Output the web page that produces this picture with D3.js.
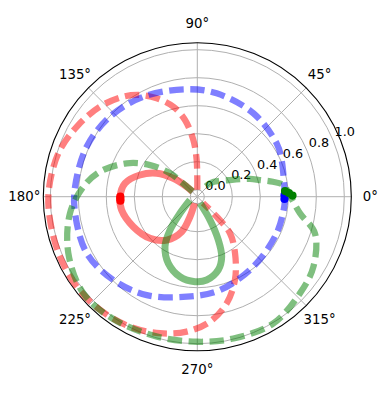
<!DOCTYPE html>
<html><head><meta charset="utf-8">
<script src="https://cdn.jsdelivr.net/npm/d3@7"></script>
<style>body{margin:0;background:#fff} svg{display:block}</style>
</head><body><svg id="c" width="387" height="393"></svg>
<script>
// ---- data (theta in degrees, counter-clockwise from east; r in data units) ----
const angleTicks = [0, 45, 90, 135, 180, 225, 270, 315];
const angleLabels = ["0°", "45°", "90°", "135°", "180°", "225°", "270°", "315°"];
const radialTicks = [0, 0.2, 0.4, 0.6, 0.8, 1.0];
const radialLabels = ["0.0", "0.2", "0.4", "0.6", "0.8", "1.0"];

const redSolidTheta = [133, 136.7, 142.5, 150, 159.3, 169.5, 180, 190, 205.1, 221.3, 234.8, 246, 250, 247];
const redSolidR     = [0.0, 0.054, 0.166, 0.285, 0.388, 0.475, 0.502, 0.499, 0.455, 0.40, 0.329, 0.224, 0.102, 0.0];

const redDashTheta = [90, 91, 94, 99.1, 104.9, 112.4, 119.4, 126.5, 137.2, 149.9, 161.2, 170.9, 180, 189, 202.2, 216.7, 229.3, 242.6, 254.7, 265.5, 275.8, 285.4, 294.3, 303.7, 311.8, 314.1, 312.3];
const redDashR     = [0.0, 0.212, 0.356, 0.505, 0.615, 0.71, 0.784, 0.839, 0.897, 0.946, 0.986, 1.003, 1.014, 1.015, 1.02, 1.025, 1.016, 0.996, 0.961, 0.917, 0.847, 0.74, 0.603, 0.436, 0.30, 0.149, 0.01];

const blueDashTheta = [0, 23.5, 33.9, 56.1, 79.4, 95.6, 118.4, 137.5, 155.7, 175.3, 187.7, 207.1, 224.8, 242.8, 264, 283.7, 308.7, 335.3, 353.4, 360];
const blueDashR     = [0.576, 0.607, 0.633, 0.668, 0.701, 0.721, 0.761, 0.796, 0.817, 0.826, 0.831, 0.837, 0.795, 0.74, 0.668, 0.636, 0.59, 0.574, 0.575, 0.576];

const greenSolidTheta = [204.3, 223.8, 230.7, 237.1, 246.5, 257.8, 268.5, 276.4, 286, 292.1, 295.9, 298.6, 292.2];
const greenSolidR     = [0.007, 0.121, 0.258, 0.375, 0.469, 0.535, 0.557, 0.549, 0.494, 0.413, 0.294, 0.14, 0.0];

const greenDashTheta = [132, 136, 139.4, 146.2, 154.7, 165.6, 175, 187.4, 203.7, 220.3, 235.7, 254, 270, 284.3, 301, 316.7, 329, 342.7, 350.8, 360, 367.7, 371.2, 375, 378.6, 386, 406.5, 411.5];
const greenDashR     = [0.0, 0.05, 0.207, 0.356, 0.508, 0.668, 0.767, 0.867, 0.956, 1.017, 1.01, 0.99, 0.986, 0.995, 1.005, 0.957, 0.918, 0.83, 0.693, 0.615, 0.57, 0.50, 0.41, 0.347, 0.225, 0.082, 0.0];

const redMarkTheta = [180, 181.5, 183];
const redMarkR     = [0.50, 0.50, 0.50];
const blueMarkTheta = [1, -1.5];
const blueMarkR     = [0.573, 0.573];
const greenMarkTheta = [3.7, 2.3, 0.7];
const greenMarkR     = [0.578, 0.605, 0.63];

// ---- layout ----
const cx = 197.3, cy = 196.7, R = 154;
const svg = d3.select("#c");
const r = d3.scaleLinear().domain([-0.05, 1.05]).range([0, R]);
const ang = d3.scaleLinear().domain([0, 360]).range([Math.PI / 2, Math.PI / 2 - 2 * Math.PI]);
const font = "DejaVu Sans, sans-serif";

const g = svg.append("g").attr("transform", `translate(${cx},${cy})`);
const px = (t, v) => r(v) * Math.sin(ang(t));
const py = (t, v) => -r(v) * Math.cos(ang(t));

// grid circles
g.selectAll("circle.grid").data(radialTicks).enter().append("circle")
  .attr("r", d => r(d)).attr("fill", "none").attr("stroke", "#b0b0b0").attr("stroke-width", 1);
// angular grid
g.selectAll("line.grid").data(angleTicks).enter().append("line")
  .attr("x1", 0).attr("y1", 0)
  .attr("x2", d => px(d, 1.05)).attr("y2", d => py(d, 1.05))
  .attr("stroke", "#b0b0b0").attr("stroke-width", 1);

svg.append("clipPath").attr("id", "clip").append("circle")
  .attr("cx", cx).attr("cy", cy).attr("r", R);

const plot = svg.append("g").attr("clip-path", "url(#clip)")
  .append("g").attr("transform", `translate(${cx},${cy})`);

const line = d3.lineRadial().curve(d3.curveCatmullRom.alpha(0.5))
  .angle(d => ang(d[0])).radius(d => r(d[1]));
const zip = (a, b) => a.map((t, i) => [t, b[i]]);

const series = [
  {th: redSolidTheta, rr: redSolidR, color: "#ff0000", dash: null, w: 7},
  {th: redDashTheta, rr: redDashR, color: "#ff0000", dash: "14.5 6.5", w: 6.3},
  {th: blueDashTheta, rr: blueDashR, color: "#0000ff", dash: "14.5 6.5", w: 6.3},
  {th: greenSolidTheta, rr: greenSolidR, color: "#008000", dash: null, w: 7},
  {th: greenDashTheta, rr: greenDashR, color: "#008000", dash: "14.5 6.5", w: 6.3}
];
series.forEach(s => {
  plot.append("path").attr("d", line(zip(s.th, s.rr)))
    .attr("fill", "none").attr("stroke", s.color).attr("stroke-opacity", 0.5)
    .attr("stroke-width", s.w).attr("stroke-linejoin", "round")
    .attr("stroke-dasharray", s.dash);
});

const marks = [
  {th: redMarkTheta, rr: redMarkR, color: "#ff0000"},
  {th: blueMarkTheta, rr: blueMarkR, color: "#0000ff"},
  {th: greenMarkTheta, rr: greenMarkR, color: "#008000"}
];
marks.forEach(m => {
  plot.selectAll(null).data(zip(m.th, m.rr)).enter().append("circle")
    .attr("cx", d => px(d[0], d[1])).attr("cy", d => py(d[0], d[1]))
    .attr("r", 4.1).attr("fill", m.color);
});

// outer spine
g.append("circle").attr("r", R).attr("fill", "none").attr("stroke", "#000").attr("stroke-width", 1.1);

// angle labels
g.selectAll("text.ang").data(angleTicks).enter().append("text")
  .attr("x", (d) => (R + 19) * Math.sin(ang(d)))
  .attr("y", (d) => -(R + 19) * Math.cos(ang(d)))
  .attr("text-anchor", "middle").attr("dominant-baseline", "central")
  .attr("font-family", font).attr("font-size", 13.3).attr("fill", "#000")
  .text((d, i) => angleLabels[i]);

// radial labels at 22.5°
g.selectAll("text.rad").data(radialTicks).enter().append("text")
  .attr("x", d => px(22.5, d) + 1.5)
  .attr("y", d => py(22.5, d) - 4)
  .attr("text-anchor", "start")
  .attr("font-family", font).attr("font-size", 12.8).attr("fill", "#000")
  .text((d, i) => radialLabels[i]);
</script>
</body></html>
